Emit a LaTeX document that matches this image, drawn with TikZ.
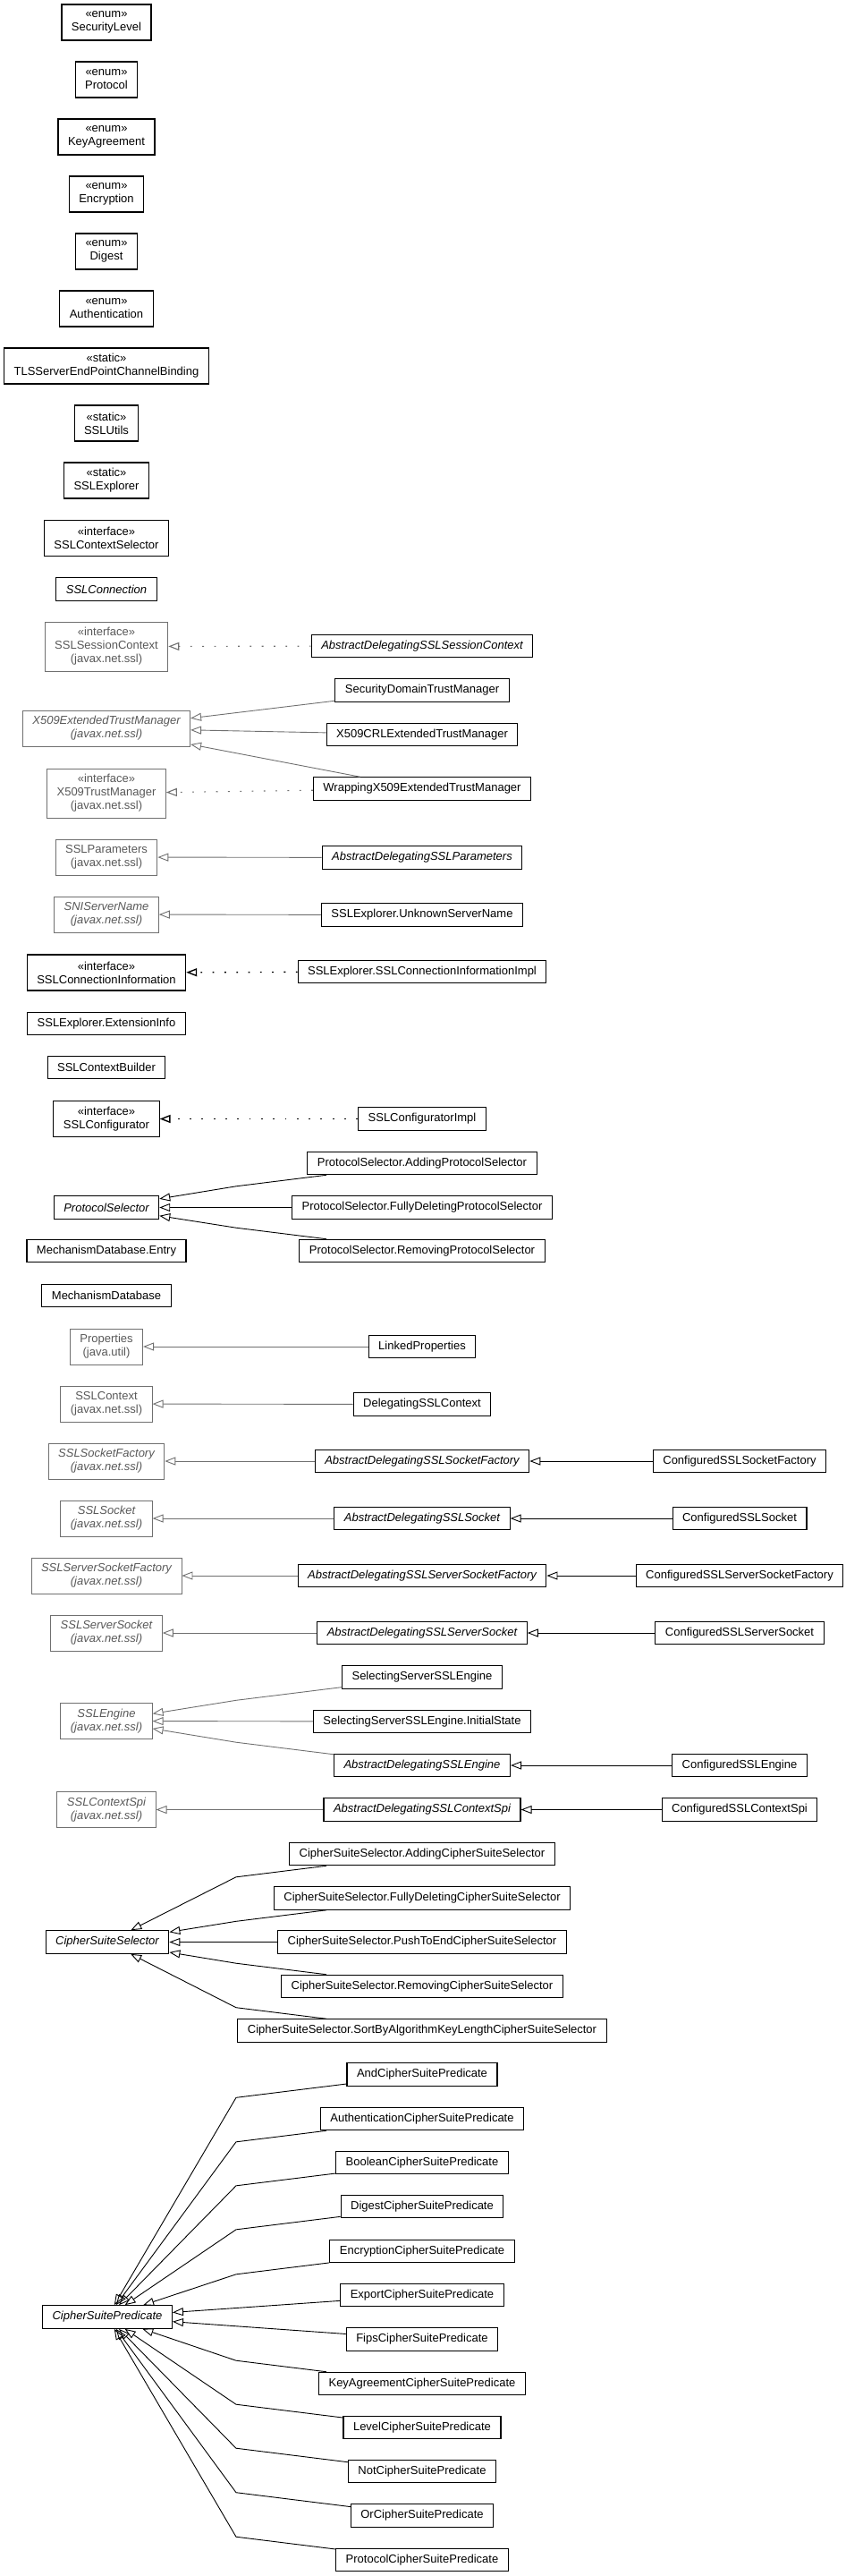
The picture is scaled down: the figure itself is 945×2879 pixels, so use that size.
\documentclass[tikz,border=0pt]{standalone}
\usepackage{fontspec}
\setmainfont{Liberation Sans}
\usetikzlibrary{arrows.meta}
\definecolor{extline}{RGB}{112,112,112}
\definecolor{exttext}{RGB}{88,88,88}

\begin{document}
\begin{tikzpicture}[x=1pt, y=-1pt, every node/.style={font=\fontsize{13}{15}\selectfont},
      cls/.style={rectangle, draw, line width=1.1pt, align=center, inner xsep=11pt, inner ysep=2pt, minimum height=25.5pt},
      ext/.style={cls, draw=extline, text=exttext, line width=0.9pt},
      abs/.style={font=\fontsize{13}{15}\selectfont\itshape},
      two/.style={minimum height=40pt},
      three/.style={minimum height=55pt},
      gen/.style={-{Triangle[open, length=12pt, width=9pt]}, line width=0.9pt},
      extgen/.style={gen, draw=extline},
      impl/.style={gen, line width=1.4pt, dash pattern=on 1.8pt off 11.5pt},
      extimpl/.style={impl, draw=extline, line width=1.1pt}]

      \useasboundingbox (0,0) rectangle (945,2879);
      \coordinate (bendx) at (264,0);

      % Enums and static helpers
      \node[cls,two] (secLvl) at (119,25) {«enum»\\SecurityLevel};
      \node[cls,two] (protoEnum) at (119,89) {«enum»\\Protocol};
      \node[cls,two] (keyAgr) at (119,153) {«enum»\\KeyAgreement};
      \node[cls,two] (encEnum) at (119,217) {«enum»\\Encryption};
      \node[cls,two] (digEnum) at (119,281) {«enum»\\Digest};
      \node[cls,two] (authEnum) at (119,345) {«enum»\\Authentication};
      \node[cls,two] (tlsBind) at (119,409) {«static»\\TLSServerEndPointChannelBinding};
      \node[cls,two] (sslUtils) at (119,473) {«static»\\SSLUtils};
      \node[cls,two] (sslExpl) at (119,537) {«static»\\SSLExplorer};
      \node[cls,two] (ctxSel) at (119,601.5) {«interface»\\SSLContextSelector};
      \node[cls,abs] (sslConn) at (119,658.5) {SSLConnection};

      % Trust managers and session context
      \node[ext,three] (sessCtx) at (119,722.5) {«interface»\\SSLSessionContext\\(javax.net.ssl)};
      \node[cls,abs] (adSessCtx) at (472,722) {AbstractDelegatingSSLSessionContext};
      \node[cls] (secDomTM) at (472,771.5) {SecurityDomainTrustManager};
      \node[ext,two,abs] (x509Ext) at (119,814) {X509ExtendedTrustManager\\(javax.net.ssl)};
      \node[cls] (crlTM) at (472,821) {X509CRLExtendedTrustManager};
      \node[ext,three] (x509TM) at (119,886.5) {«interface»\\X509TrustManager\\(javax.net.ssl)};
      \node[cls] (wrapTM) at (472,881.5) {WrappingX509ExtendedTrustManager};

      \node[ext,two] (sslParams) at (119,958) {SSLParameters\\(javax.net.ssl)};
      \node[cls,abs] (adParams) at (472,958.5) {AbstractDelegatingSSLParameters};
      \node[ext,two,abs] (sniName) at (119,1022) {SNIServerName\\(javax.net.ssl)};
      \node[cls] (unkName) at (472,1022.5) {SSLExplorer.UnknownServerName};
      \node[cls,two] (connInfo) at (119,1087) {«interface»\\SSLConnectionInformation};
      \node[cls] (connInfoImpl) at (472,1086) {SSLExplorer.SSLConnectionInformationImpl};
      \node[cls] (extInfo) at (119,1144) {SSLExplorer.ExtensionInfo};
      \node[cls] (ctxBuilder) at (119,1193) {SSLContextBuilder};
      \node[cls,two] (configurator) at (119,1250.5) {«interface»\\SSLConfigurator};
      \node[cls] (configuratorImpl) at (472,1250.5) {SSLConfiguratorImpl};

      % Protocol selectors
      \node[cls] (psAdd) at (472,1300) {ProtocolSelector.AddingProtocolSelector};
      \node[cls,abs] (protoSel) at (119,1349.5) {ProtocolSelector};
      \node[cls] (psFull) at (472,1349.5) {ProtocolSelector.FullyDeletingProtocolSelector};
      \node[cls] (mechEntry) at (119,1398) {MechanismDatabase.Entry};
      \node[cls] (psRemove) at (472,1398) {ProtocolSelector.RemovingProtocolSelector};
      \node[cls] (mechDb) at (119,1448) {MechanismDatabase};

      % Delegating JSSE classes
      \node[ext,two] (props) at (119,1505) {Properties\\(java.util)};
      \node[cls] (linkedProps) at (472,1505) {LinkedProperties};
      \node[ext,two] (sslCtx) at (119,1569) {SSLContext\\(javax.net.ssl)};
      \node[cls] (delegCtx) at (472,1569.5) {DelegatingSSLContext};
      \node[ext,two,abs] (sockFac) at (119,1633) {SSLSocketFactory\\(javax.net.ssl)};
      \node[cls,abs] (adSockFac) at (472,1633) {AbstractDelegatingSSLSocketFactory};
      \node[cls] (cfgSockFac) at (827,1633) {ConfiguredSSLSocketFactory};
      \node[ext,two,abs] (sock) at (119,1697) {SSLSocket\\(javax.net.ssl)};
      \node[cls,abs] (adSock) at (472,1697) {AbstractDelegatingSSLSocket};
      \node[cls] (cfgSock) at (827,1697) {ConfiguredSSLSocket};
      \node[ext,two,abs] (srvSockFac) at (119,1761) {SSLServerSocketFactory\\(javax.net.ssl)};
      \node[cls,abs] (adSrvSockFac) at (472,1761) {AbstractDelegatingSSLServerSocketFactory};
      \node[cls] (cfgSrvSockFac) at (827,1761) {ConfiguredSSLServerSocketFactory};
      \node[ext,two,abs] (srvSock) at (119,1825) {SSLServerSocket\\(javax.net.ssl)};
      \node[cls,abs] (adSrvSock) at (472,1825) {AbstractDelegatingSSLServerSocket};
      \node[cls] (cfgSrvSock) at (827,1825) {ConfiguredSSLServerSocket};
      \node[cls] (selEngine) at (472,1874.5) {SelectingServerSSLEngine};
      \node[ext,two,abs] (engine) at (119,1923.5) {SSLEngine\\(javax.net.ssl)};
      \node[cls] (initState) at (472,1924) {SelectingServerSSLEngine.InitialState};
      \node[cls,abs] (adEngine) at (472,1973) {AbstractDelegatingSSLEngine};
      \node[cls] (cfgEngine) at (827,1973) {ConfiguredSSLEngine};
      \node[ext,two,abs] (ctxSpi) at (119,2022.5) {SSLContextSpi\\(javax.net.ssl)};
      \node[cls,abs] (adCtxSpi) at (472,2022.5) {AbstractDelegatingSSLContextSpi};
      \node[cls] (cfgCtxSpi) at (827,2022.5) {ConfiguredSSLContextSpi};

      % Cipher suite selectors
      \node[cls] (cssAdd) at (472,2072) {CipherSuiteSelector.AddingCipherSuiteSelector};
      \node[cls] (cssFull) at (472,2121.5) {CipherSuiteSelector.FullyDeletingCipherSuiteSelector};
      \node[cls,abs] (cipherSel) at (120,2170.5) {CipherSuiteSelector};
      \node[cls] (cssPush) at (472,2170.5) {CipherSuiteSelector.PushToEndCipherSuiteSelector};
      \node[cls] (cssRemove) at (472,2220) {CipherSuiteSelector.RemovingCipherSuiteSelector};
      \node[cls] (cssSort) at (472,2269.5) {CipherSuiteSelector.SortByAlgorithmKeyLengthCipherSuiteSelector};

      % Cipher suite predicates
      \node[cls] (cspAnd) at (472,2318.5) {AndCipherSuitePredicate};
      \node[cls] (cspAuth) at (472,2368) {AuthenticationCipherSuitePredicate};
      \node[cls] (cspBool) at (472,2417) {BooleanCipherSuitePredicate};
      \node[cls] (cspDig) at (472,2466) {DigestCipherSuitePredicate};
      \node[cls] (cspEnc) at (472,2516) {EncryptionCipherSuitePredicate};
      \node[cls] (cspExp) at (472,2565) {ExportCipherSuitePredicate};
      \node[cls,abs] (cipherPred) at (120,2589.5) {CipherSuitePredicate};
      \node[cls] (cspFips) at (472,2614.5) {FipsCipherSuitePredicate};
      \node[cls] (cspKey) at (472,2664) {KeyAgreementCipherSuitePredicate};
      \node[cls] (cspLvl) at (472,2713) {LevelCipherSuitePredicate};
      \node[cls] (cspNot) at (472,2762) {NotCipherSuitePredicate};
      \node[cls] (cspOr) at (472,2811.5) {OrCipherSuitePredicate};
      \node[cls] (cspProto) at (472,2861) {ProtocolCipherSuitePredicate};

      % Realizations
      \draw[extimpl] (adSessCtx) -- (sessCtx);
      \draw[extimpl] (wrapTM) -- (x509TM);
      \draw[impl] (connInfoImpl) -- (connInfo);
      \draw[impl] (configuratorImpl) -- (configurator);

      % Generalizations to outside classes
      \foreach \c in {secDomTM, crlTM, wrapTM} {
        \draw[extgen] (\c) -- (x509Ext);
      }
      \draw[extgen] (adParams) -- (sslParams);
      \draw[extgen] (unkName) -- (sniName);
      \draw[extgen] (linkedProps) -- (props);
      \draw[extgen] (delegCtx) -- (sslCtx);
      \draw[extgen] (adSockFac) -- (sockFac);
      \draw[extgen] (adSock) -- (sock);
      \draw[extgen] (adSrvSockFac) -- (srvSockFac);
      \draw[extgen] (adSrvSock) -- (srvSock);
      \draw[extgen] (adCtxSpi) -- (ctxSpi);
      \draw[extgen] (selEngine) -- ([yshift=-12.5pt]selEngine.south -| bendx) -- (engine);
      \draw[extgen] (initState) -- (engine);
      \draw[extgen] (adEngine) -- ([yshift=12.5pt]adEngine.north -| bendx) -- (engine);

      % Generalizations inside the package
      \draw[gen] (cfgSockFac) -- (adSockFac);
      \draw[gen] (cfgSock) -- (adSock);
      \draw[gen] (cfgSrvSockFac) -- (adSrvSockFac);
      \draw[gen] (cfgSrvSock) -- (adSrvSock);
      \draw[gen] (cfgEngine) -- (adEngine);
      \draw[gen] (cfgCtxSpi) -- (adCtxSpi);

      \draw[gen] (psAdd) -- ([yshift=-12.5pt]psAdd.south -| bendx) -- (protoSel);
      \draw[gen] (psFull) -- (protoSel);
      \draw[gen] (psRemove) -- ([yshift=12.5pt]psRemove.north -| bendx) -- (protoSel);

      \foreach \c in {cssAdd, cssFull} {
        \draw[gen] (\c) -- ([yshift=-12.5pt]\c.south -| bendx) -- (cipherSel);
      }
      \draw[gen] (cssPush) -- (cipherSel);
      \foreach \c in {cssRemove, cssSort} {
        \draw[gen] (\c) -- ([yshift=12.5pt]\c.north -| bendx) -- (cipherSel);
      }

      \foreach \c in {cspAnd, cspAuth, cspBool, cspDig, cspEnc} {
        \draw[gen] (\c) -- ([yshift=-12.5pt]\c.south -| bendx) -- (cipherPred);
      }
      \foreach \c in {cspExp, cspFips} {
        \draw[gen] (\c) -- (cipherPred);
      }
      \foreach \c in {cspKey, cspLvl, cspNot, cspOr, cspProto} {
        \draw[gen] (\c) -- ([yshift=12.5pt]\c.north -| bendx) -- (cipherPred);
      }
    \end{tikzpicture}
\end{document}
